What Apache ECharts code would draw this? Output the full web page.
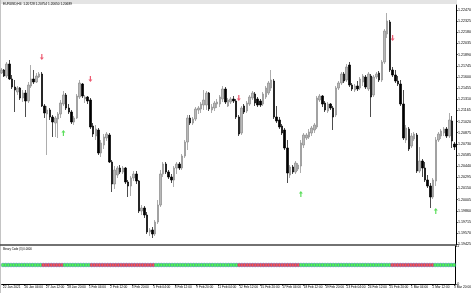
<!DOCTYPE html>
<html><head><meta charset="utf-8">
<script src="https://cdn.jsdelivr.net/npm/echarts@6/dist/echarts.min.js"></script>
<style>html,body{margin:0;padding:0;background:#fff}#c{width:474px;height:293px}</style>
</head><body><div id="c"></div>
<script>
const tickLabels = ["22 Jan 2021","26 Jan 04:00","27 Jan 12:00","28 Jan 20:00","1 Feb 04:00","2 Feb 12:00","3 Feb 20:00","5 Feb 04:00","8 Feb 12:00","9 Feb 20:00","11 Feb 04:00","12 Feb 12:00","15 Feb 20:00","17 Feb 04:00","18 Feb 12:00","19 Feb 20:00","23 Feb 04:00","24 Feb 12:00","25 Feb 20:00","1 Mar 04:00","2 Mar 12:00","3 Mar 20:00"];
const yTicks = [1.19425,1.19570,1.19715,1.19860,1.20005,1.20150,1.20295,1.20440,1.20585,1.20730,1.20875,1.21020,1.21165,1.21310,1.21455,1.21600,1.21745,1.21890,1.22035,1.22180,1.22325,1.22470];
// [open, close, low, high]
const ohlc = [
[1.21651,1.21690,1.21638,1.21716],[1.21690,1.21612,1.21599,1.21703],[1.21612,1.21768,1.21586,1.21794],[1.21768,1.21573,1.21560,1.21820],
[1.21573,1.21469,1.21443,1.21625],[1.21469,1.21430,1.21144,1.21560],[1.21404,1.21456,1.21365,1.21482],[1.21456,1.21326,1.21300,1.21469],
[1.21326,1.21391,1.21274,1.21430],[1.21391,1.21287,1.21079,1.21430],[1.21287,1.21495,1.21261,1.21534],[1.21482,1.21573,1.21456,1.21755],
[1.21573,1.21534,1.21508,1.21690],[1.21534,1.21612,1.21521,1.21651],[1.21599,1.21638,1.21586,1.21664],[1.21638,1.21222,1.21209,1.21664],
[1.21222,1.21131,1.21066,1.21248],[1.21118,1.21170,1.20585,1.21222],[1.21170,1.21079,1.21040,1.21196],[1.21079,1.21014,1.20819,1.21105],
[1.21001,1.21066,1.20819,1.21092],[1.21053,1.21118,1.20806,1.21144],[1.21118,1.21261,1.21066,1.21300],[1.21248,1.21365,1.21222,1.21417],
[1.21365,1.21196,1.21170,1.21391],[1.21196,1.21144,1.21118,1.21248],[1.21144,1.21014,1.20988,1.21170],[1.21014,1.21066,1.20975,1.21092],
[1.21066,1.21352,1.21053,1.21378],[1.21339,1.21521,1.21313,1.21560],[1.21508,1.21352,1.21326,1.21521],[1.21313,1.21339,1.21261,1.21365],
[1.21339,1.21287,1.21248,1.21352],[1.21300,1.20949,1.20923,1.21326],[1.20962,1.20858,1.20819,1.21001],[1.20832,1.20923,1.20780,1.20975],
[1.20910,1.20611,1.20585,1.20936],[1.20611,1.20741,1.20559,1.20780],[1.20715,1.20819,1.20663,1.20858],[1.20806,1.20858,1.20767,1.20884],
[1.20845,1.20494,1.20481,1.20871],[1.20494,1.20208,1.20104,1.20520],[1.20208,1.20390,1.20143,1.20442],[1.20325,1.20416,1.20286,1.20442],
[1.20416,1.20364,1.20338,1.20455],[1.20364,1.20416,1.20338,1.20442],[1.20416,1.20234,1.20208,1.20429],[1.20234,1.20182,1.20039,1.20260],
[1.20182,1.20286,1.20052,1.20312],[1.20286,1.20338,1.20247,1.20377],[1.20338,1.20247,1.20208,1.20377],[1.20247,1.19857,1.19831,1.20260],
[1.19857,1.19896,1.19805,1.19935],[1.19896,1.19805,1.19766,1.19922],[1.19805,1.19584,1.19558,1.19844],[1.19584,1.19610,1.19532,1.19636],
[1.19610,1.19558,1.19506,1.19649],[1.19558,1.19714,1.19532,1.19740],[1.19714,1.19935,1.19688,1.20000],[1.19935,1.20338,1.19909,1.20390],
[1.20338,1.20468,1.20299,1.20494],[1.20468,1.20364,1.20338,1.20494],[1.20364,1.20299,1.20273,1.20390],[1.20299,1.20260,1.20221,1.20338],
[1.20260,1.20416,1.20169,1.20442],[1.20416,1.20468,1.20338,1.20494],[1.20468,1.20416,1.20390,1.20494],[1.20416,1.20572,1.20390,1.20598],
[1.20572,1.20754,1.20546,1.20780],[1.20754,1.21066,1.20650,1.21105],[1.21066,1.21001,1.20975,1.21105],[1.21001,1.21053,1.20975,1.21079],
[1.21053,1.21183,1.21027,1.21209],[1.21170,1.21196,1.21118,1.21222],[1.21183,1.21248,1.21131,1.21274],[1.21235,1.21300,1.21170,1.21430],
[1.21235,1.21391,1.21170,1.21417],[1.21391,1.21183,1.21157,1.21404],[1.21170,1.21209,1.21131,1.21248],[1.21196,1.21261,1.21157,1.21287],
[1.21248,1.21274,1.21196,1.21313],[1.21248,1.21339,1.21209,1.21365],[1.21313,1.21443,1.21274,1.21482],[1.21443,1.21274,1.21248,1.21469],
[1.21222,1.21300,1.21209,1.21326],[1.21274,1.21313,1.21248,1.21339],[1.21313,1.21287,1.21261,1.21352],[1.21287,1.21079,1.21053,1.21313],
[1.21079,1.20858,1.20832,1.21105],[1.20871,1.21196,1.20845,1.21222],[1.21222,1.21144,1.21118,1.21248],[1.21157,1.21261,1.21131,1.21287],
[1.21248,1.21339,1.21222,1.21365],[1.21326,1.21391,1.21300,1.21417],[1.21378,1.21261,1.21222,1.21404],[1.21313,1.21235,1.21209,1.21339],
[1.21287,1.21235,1.21209,1.21313],[1.21248,1.21378,1.21222,1.21404],[1.21339,1.21456,1.21313,1.21482],[1.21391,1.21521,1.21365,1.21547],
[1.21456,1.21560,1.21417,1.21690],[1.21547,1.21079,1.21053,1.21573],[1.21079,1.21027,1.21001,1.21222],[1.21040,1.20949,1.20923,1.21079],
[1.20962,1.20871,1.20845,1.20988],[1.20910,1.20676,1.20650,1.20936],[1.20676,1.20351,1.20221,1.20780],[1.20325,1.20429,1.20286,1.20455],
[1.20429,1.20364,1.20338,1.20455],[1.20364,1.20481,1.20338,1.20507],[1.20403,1.20455,1.20377,1.20481],[1.20442,1.20741,1.20351,1.20780],
[1.20715,1.20845,1.20676,1.20871],[1.20806,1.20845,1.20780,1.20871],[1.20819,1.20884,1.20793,1.20923],[1.20871,1.20936,1.20832,1.20962],
[1.20910,1.20975,1.20871,1.21001],[1.20949,1.21326,1.20923,1.21352],[1.21300,1.21352,1.21274,1.21378],[1.21352,1.21248,1.21209,1.21365],
[1.21261,1.21170,1.21144,1.21287],[1.21157,1.21248,1.21131,1.21274],[1.21248,1.21196,1.21170,1.21261],[1.21196,1.21079,1.20910,1.21222],
[1.21105,1.21456,1.21079,1.21482],[1.21456,1.21521,1.21430,1.21547],[1.21521,1.21638,1.21495,1.21664],[1.21638,1.21547,1.21521,1.21664],
[1.21560,1.21729,1.21534,1.21768],[1.21755,1.21495,1.21469,1.21794],[1.21495,1.21443,1.21417,1.21521],[1.21430,1.21482,1.21404,1.21508],
[1.21482,1.21443,1.21417,1.21547],[1.21456,1.21573,1.21430,1.21599],[1.21534,1.21612,1.21482,1.21638],[1.21599,1.21469,1.21443,1.21625],
[1.21443,1.21638,1.21417,1.21664],[1.21612,1.21339,1.21079,1.21638],[1.21365,1.21599,1.21339,1.21625],[1.21599,1.21638,1.21573,1.21664],
[1.21651,1.21560,1.21534,1.21677],[1.21560,1.21794,1.21534,1.21820],[1.21794,1.22197,1.21768,1.22223],[1.22158,1.22327,1.22106,1.22431],
[1.22314,1.21690,1.21664,1.22340],[1.21690,1.21625,1.21599,1.21729],[1.21625,1.21547,1.21521,1.21690],[1.21547,1.21508,1.21482,1.21612],
[1.21508,1.21248,1.21222,1.21560],[1.21248,1.20806,1.20780,1.21430],[1.20780,1.20936,1.20741,1.20975],[1.20923,1.20663,1.20637,1.20949],
[1.20702,1.20832,1.20676,1.20871],[1.20793,1.20858,1.20767,1.20884],[1.20845,1.20377,1.20351,1.20871],[1.20377,1.20507,1.20351,1.20689],
[1.20507,1.20416,1.20299,1.20533],[1.20416,1.20260,1.20234,1.20494],[1.20260,1.20182,1.20156,1.20325],[1.20182,1.20039,1.19896,1.20221],
[1.20039,1.20260,1.20013,1.20286],[1.20247,1.20780,1.20182,1.20819],[1.20780,1.20858,1.20754,1.20884],[1.20832,1.20897,1.20793,1.20923],
[1.20871,1.20923,1.20832,1.20949],[1.20923,1.20832,1.20806,1.20949],[1.20832,1.21040,1.20806,1.21131],[1.21027,1.20767,1.20676,1.21092],
[1.20728,1.20689,1.20650,1.20754]
];
// Binary Code state per bar: 1 = green, 0 = red
const signal = [
1,1,1,1,1,1,1,1,1,1, 1,1,1,1,1,0,0,0,0,0, 0,0,0,1,1,1,1,1,1,1, 1,1,1,0,0,0,0,0,0,0,
0,0,0,0,0,0,0,0,0,0, 0,0,0,0,0,0,0,1,1,1, 1,1,1,1,1,1,1,1,1,1, 1,1,1,1,1,1,1,1,1,1,
1,1,1,1,1,1,1,1,0,0, 0,0,0,0,0,0,0,0,0,0, 0,0,0,0,0,0,0,0,0,0, 0,1,1,1,1,1,1,1,1,1,
1,1,1,1,1,1,1,1,1,1, 1,1,1,1,1,1,1,1,1,1, 1,1,1,1,1,0,0,0,0,0, 0,0,0,0,0,0,0,0,0,0,
0,1,1,1,1,1,1,1,1
];
const sellArrows = [[15,1.21859],[33,1.21573],[88,1.21326],[145,1.22106]];
const buyArrows = [[23,1.20871],[111,1.20078],[161,1.19857]];
const headerText = "EURUSD,H4  1.20728 1.20754 1.20650 1.20689";
const subText = "Binary Code (3) 0.0000";

const categories = ohlc.map((_, i) => String(i));
const FONT = '"Liberation Sans", Arial, sans-serif';
const chart = echarts.init(document.getElementById('c'), null, {renderer: 'canvas'});
const labelEvery = (idx) => idx % 8 === 0;

chart.setOption({
  animation: false,
  backgroundColor: '#ffffff',
  grid: [
    {left: 0, right: 17, top: 5, height: 240},
    {left: 0, right: 17, top: 246, height: 38}
  ],
  xAxis: [
    {type: 'category', gridIndex: 0, data: categories, boundaryGap: true,
     axisLine: {show: true, lineStyle: {color: '#444', width: 1.5}},
     axisTick: {show: false}, axisLabel: {show: false}, splitLine: {show: false}},
    {type: 'category', gridIndex: 1, data: categories, boundaryGap: true,
     axisLine: {show: true, lineStyle: {color: '#000', width: 1}},
     axisTick: {show: true, alignWithLabel: true, interval: labelEvery, length: 2, lineStyle: {color: '#000', width: 0.6}},
     axisLabel: {show: true, interval: labelEvery, align: 'left', margin: 2, fontSize: 3.2, fontFamily: FONT, color: '#000',
       formatter: (v, i) => tickLabels[i / 8] || ''},
     splitLine: {show: false}}
  ],
  yAxis: [
    {type: 'value', gridIndex: 0, position: 'right', min: 1.19415, max: 1.22535, scale: true,
     axisLine: {show: true, lineStyle: {color: '#000', width: 1}},
     axisTick: {show: true, length: 2, customValues: yTicks, lineStyle: {color: '#000', width: 0.6}},
     axisLabel: {show: true, customValues: yTicks, margin: 2, fontSize: 3.6, fontFamily: FONT, color: '#000',
       formatter: v => v.toFixed(5)},
     splitLine: {show: false}},
    {type: 'value', gridIndex: 1, position: 'right', min: 0, max: 1, interval: 1,
     axisLine: {show: true, lineStyle: {color: '#000', width: 1}},
     axisTick: {show: true, length: 2, lineStyle: {color: '#000', width: 0.6}},
     axisLabel: {show: true, margin: 2, fontSize: 3.6, fontFamily: FONT, color: '#000'},
     splitLine: {show: false}}
  ],
  series: [
    {type: 'candlestick', xAxisIndex: 0, yAxisIndex: 0, data: ohlc, barWidth: 2,
     itemStyle: {color: '#b8b8b8', color0: '#000000', borderColor: '#8a8a8a', borderColor0: '#000000', borderWidth: 0.7}},
    {type: 'scatter', xAxisIndex: 0, yAxisIndex: 0, data: sellArrows, symbolSize: [4, 6],
     symbol: 'path://M1.4,0 L2.6,0 L2.6,3.4 L4,3.4 L2,6 L0,3.4 L1.4,3.4 Z',
     itemStyle: {color: '#e8334f'}, z: 5},
    {type: 'scatter', xAxisIndex: 0, yAxisIndex: 0, data: buyArrows, symbolSize: [4, 6],
     symbol: 'path://M2,0 L4,2.6 L2.6,2.6 L2.6,6 L1.4,6 L1.4,2.6 L0,2.6 Z',
     itemStyle: {color: '#33d633'}, z: 5},
    {type: 'scatter', xAxisIndex: 1, yAxisIndex: 1, symbolSize: 3.8,
     data: signal.map((s, i) => [i, 0.5, s]),
     itemStyle: {color: p => p.data[2] ? '#2cf52c' : '#f52c2c', borderColor: p => p.data[2] ? '#18b018' : '#c01818', borderWidth: 0.5}}
  ],
  graphic: [
    {type: 'rect', shape: {x: 0, y: 0, width: 457, height: 4}, style: {fill: '#e4e4e4'}, silent: true},
    {type: 'rect', shape: {x: 0, y: 0, width: 1, height: 293}, style: {fill: '#c4c4c4'}, silent: true},
    {type: 'text', x: 3, y: 3, style: {text: headerText, font: '3.2px ' + FONT, fill: '#000', textVerticalAlign: 'top'}, silent: true},
    {type: 'text', x: 3, y: 248, style: {text: subText, font: '2.8px ' + FONT, fill: '#000', textVerticalAlign: 'top'}, silent: true}
  ]
});
</script></body></html>
